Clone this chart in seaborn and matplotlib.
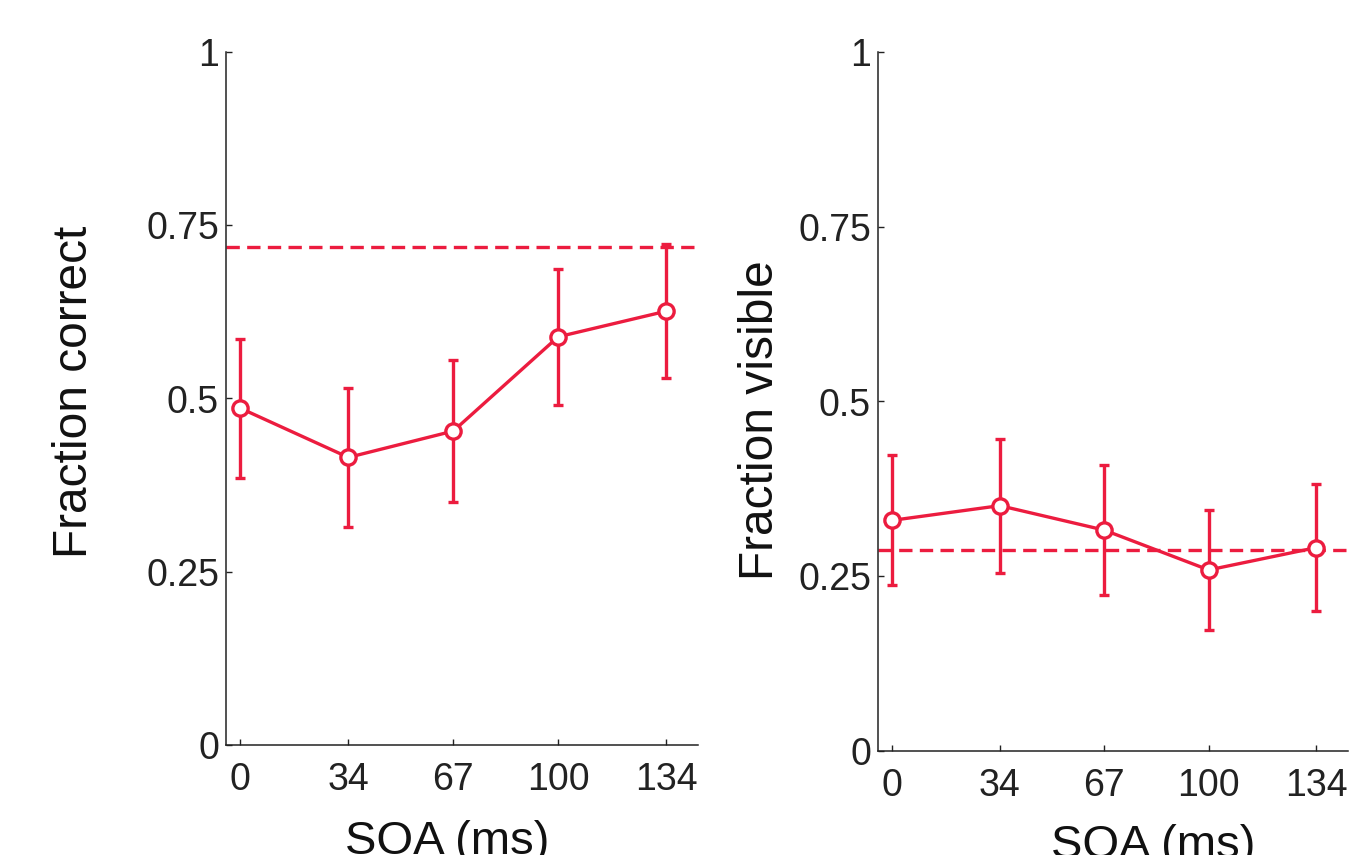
import numpy as np
import pandas as pd
import matplotlib
matplotlib.use('Agg')
import matplotlib.pyplot as plt
import seaborn as sns

# Data
soa = [0, 34, 67, 100, 134]
frac_correct = [0.486, 0.415, 0.453, 0.589, 0.626]
err_correct = [0.100, 0.100, 0.102, 0.098, 0.097]
baseline_correct = 0.718

frac_visible = [0.330, 0.351, 0.316, 0.259, 0.291]
err_visible = [0.093, 0.096, 0.093, 0.086, 0.091]
baseline_visible = 0.287

red = '#EC1C3F'

sns.set_style('ticks')
plt.rcParams['font.family'] = ['Liberation Sans', 'DejaVu Sans']

fig = plt.figure(figsize=(13.57, 8.55), dpi=100)
ax1 = fig.add_axes([226 / 1357, 1 - 745 / 855, 472 / 1357, 693 / 855])
ax2 = fig.add_axes([878 / 1357, 1 - 751 / 855, 470 / 1357, 699 / 855])


def draw_panel(ax, y, err, base, ylabel):
    df = pd.DataFrame({'SOA': soa, 'frac': y})
    ax.errorbar(soa, y, yerr=err, fmt='none', ecolor=red, elinewidth=2.4,
                capsize=3.5, capthick=2.4, zorder=2)
    sns.lineplot(data=df, x='SOA', y='frac', ax=ax, color=red, lw=2.4,
                 marker='o', markersize=11, markerfacecolor='white',
                 markeredgecolor=red, markeredgewidth=2.4, zorder=3)
    ax.axhline(base, color=red, lw=2.4, ls=(0, (4, 2.2)), zorder=1)
    ax.set_xlim(-4.5, 144)
    ax.set_ylim(0, 1)
    ax.set_xticks(soa)
    ax.set_xticklabels([str(s) for s in soa])
    ax.set_yticks([0, 0.25, 0.5, 0.75, 1])
    ax.set_yticklabels(['0', '0.25', '0.5', '0.75', '1'])
    ax.tick_params(direction='in', length=4, width=1, labelsize=27, pad=5,
                   colors='#222222')
    ax.tick_params(axis='x', pad=12)
    for s in ['top', 'right']:
        ax.spines[s].set_visible(False)
    for s in ['left', 'bottom']:
        ax.spines[s].set_linewidth(1.1)
        ax.spines[s].set_color('#222222')
    ax.set_xlabel('SOA (ms)', fontsize=34, color='#111111')
    ax.set_ylabel(ylabel, fontsize=34.5, color='#111111')


draw_panel(ax1, frac_correct, err_correct, baseline_correct, 'Fraction correct')
draw_panel(ax2, frac_visible, err_visible, baseline_visible, 'Fraction visible')

ax1.xaxis.set_label_coords(0.468, -0.108)
ax1.yaxis.set_label_coords(-0.273, 0.51)
ax2.xaxis.set_label_coords(0.585, -0.105)
ax2.yaxis.set_label_coords(-0.202, 0.473)

fig.savefig('out.png', dpi=100)
